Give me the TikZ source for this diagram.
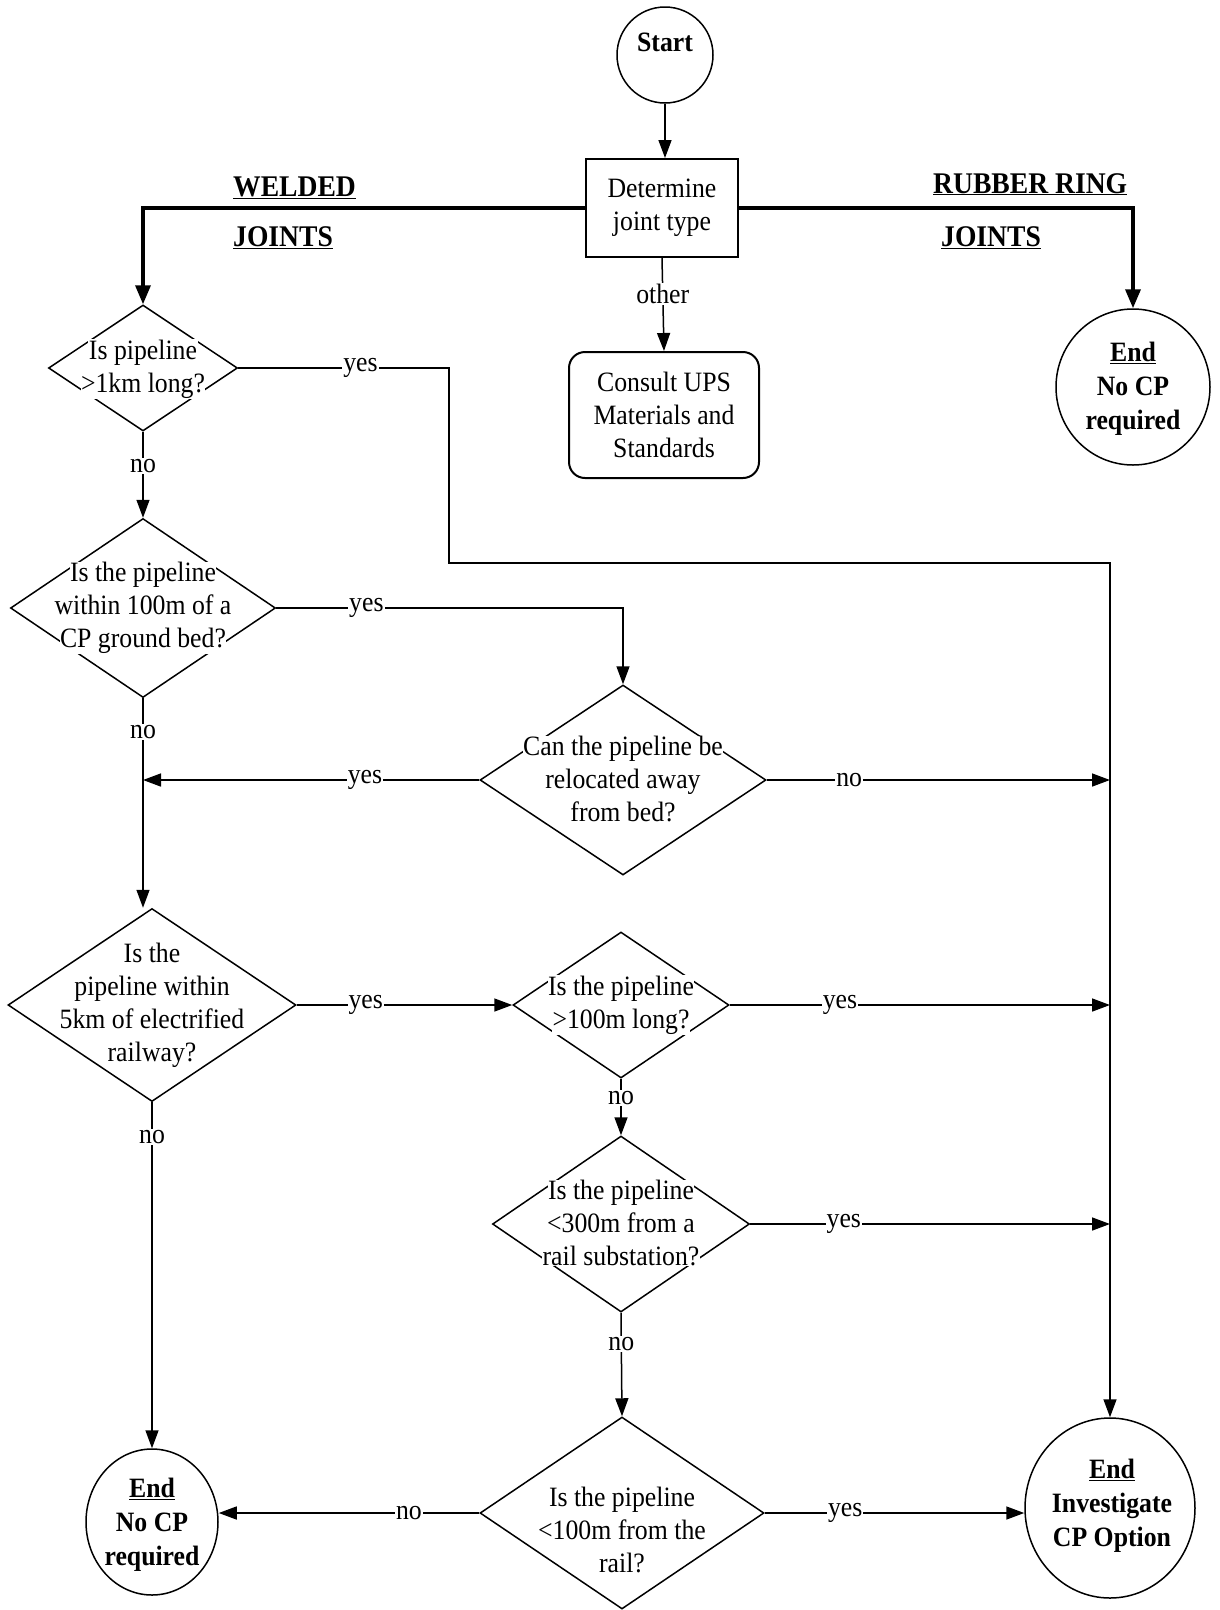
\documentclass[tikz,border=0pt]{standalone}
\usepackage{fontspec}
\setmainfont{Liberation Serif}[FakeStretch=0.92]
\usetikzlibrary{shapes.geometric,arrows.meta}
\newcommand{\wb}[1]{{\setlength{\fboxsep}{0.5pt}\colorbox{white}{#1}}}
\begin{document}
\begin{tikzpicture}[x=1pt,y=-1pt,
  every node/.style={font=\fontsize{28}{33}\selectfont},
  dia/.style={draw, shape=diamond, line width=1.5pt, inner sep=0pt},
  dtext/.style={align=center, inner sep=0pt},
  term/.style={draw, ellipse, line width=1.5pt, inner sep=0pt},
  ttext/.style={align=center, inner sep=0pt, font=\fontsize{28}{34}\selectfont\bfseries},
  boxx/.style={draw, line width=2pt, inner sep=0pt, align=center},
  arr/.style={line width=1.5pt, -{Triangle[length=18pt,width=13pt]}},
  heavyarr/.style={line width=3.5pt, -{Triangle[length=19pt,width=15pt]}},
  lbl/.style={fill=white, inner sep=1pt},
  head/.style={font=\fontsize{30}{34}\selectfont\bfseries, anchor=base west, inner sep=0pt}
]
\path[fill=white] (0,0) rectangle (1219,1610);
\useasboundingbox (0,0) rectangle (1219,1610);

% terminals and boxes
\node[term, minimum width=96, minimum height=96] (start) at (665,55) {};
\node[ttext] (starttxt) at (665,42) {Start};
\node[boxx, minimum width=152, minimum height=98] (det) at (662,208) {Determine\\joint type};
\node[boxx, rounded corners=16pt, minimum width=190, minimum height=126] (cons) at (664,415) {Consult UPS\\Materials and\\Standards};
\node[term, minimum width=154, minimum height=156] (endR) at (1133,387) {};
\node[ttext] (endRt) at (1133,389) {\underline{End}\\No CP\\required};
\node[term, minimum width=132, minimum height=146] (endL) at (152,1522) {};
\node[ttext] (endLt) at (152,1525) {\underline{End}\\No CP\\required};
\node[term, minimum width=170, minimum height=180] (inv) at (1110,1508) {};
\node[ttext] (invt) at (1112,1506) {\underline{End}\\Investigate\\CP Option};

% headings
\node[head] (hw1) at (233,196) {\underline{WELDED}};
\node[head] (hw2) at (233,246) {\underline{JOINTS}};
\node[head] (hr1) at (933,193) {\underline{RUBBER RING}};
\node[head] (hr2) at (941,246) {\underline{JOINTS}};

% decisions
\node[dia, minimum width=189, minimum height=126] (d1) at (143,368) {};
\node[dia, minimum width=265, minimum height=179] (d2) at (143,608) {};
\node[dia, minimum width=288, minimum height=193] (d3) at (152,1005) {};
\node[dia, minimum width=286, minimum height=190] (d4) at (623,780) {};
\node[dia, minimum width=216, minimum height=146] (d5) at (621,1005) {};
\node[dia, minimum width=257, minimum height=176] (d6) at (621,1224) {};
\node[dia, minimum width=284, minimum height=192] (d7) at (622,1513) {};

\node[dtext] (t1) at (143,369) {\wb{Is pipeline}\\\wb{>1km long?}};
\node[dtext] (t2) at (143,608) {\wb{Is the pipeline}\\\wb{within 100m of a}\\\wb{CP ground bed?}};
\node[dtext] (t3) at (152,1005) {\wb{Is the}\\\wb{pipeline within}\\\wb{5km of electrified}\\\wb{railway?}};
\node[dtext] (t4) at (623,779) {\wb{Can the pipeline be}\\\wb{relocated away}\\\wb{from bed?}};
\node[dtext] (t5) at (621,1005) {\wb{Is the pipeline}\\\wb{>100m long?}};
\node[dtext] (t6) at (621,1223) {\wb{Is the pipeline}\\\wb{<300m from a}\\\wb{rail substation?}};
\node[dtext] (t7) at (622,1530) {\wb{Is the pipeline}\\\wb{<100m from the}\\\wb{rail?}};

% corner coordinates
\coordinate (ya) at (449,563);
\coordinate (rx) at (1110,563);

% connectors
\draw[arr] (start.south) -- (start.south |- det.north);
\draw[heavyarr] (det.west) -- (det.west -| d1.north) -- (d1.north);
\draw[heavyarr] (det.east) -- (det.east -| endR.north) -- (endR.north);
\draw[arr] (det.south) -- node[lbl,pos=.39]{other} (cons.north);

\draw[arr] (d1.east) -- node[lbl,pos=.58]{yes} (d1.east -| ya) -- (ya) -- (rx) -- (inv.north);
\draw[arr] (d1.south) -- node[lbl,pos=.4]{no} (d2.north);
\draw[arr] (d2.east) -- node[lbl,pos=.26]{yes} (d2.east -| d4.north) -- (d4.north);
\draw[arr] (d4.west) -- node[lbl,pos=.34]{yes} (d4.west -| d2.south);
\draw[arr] (d4.east) -- node[lbl,pos=.24]{no} (d4.east -| rx);
\draw[arr] (d2.south) -- node[lbl,pos=.16]{no} (d2.south |- d3.north);
\draw[arr] (d3.east) -- node[lbl,pos=.32]{yes} (d5.west);
\draw[arr] (d5.east) -- node[lbl,pos=.29]{yes} (d5.east -| rx);
\draw[arr] (d5.south) -- node[lbl,pos=.34]{no} (d6.north);
\draw[arr] (d6.east) -- node[lbl,pos=.26]{yes} (d6.east -| rx);
\draw[arr] (d6.south) -- node[lbl,pos=.3]{no} (d7.north);
\draw[arr] (d7.west) -- node[lbl,pos=.27]{no} (d7.west -| endL.east);
\draw[arr] (d7.east) -- node[lbl,pos=.31]{yes} (d7.east -| inv.west);
\draw[arr] (d3.south) -- node[lbl,pos=.1]{no} (endL.north);
\end{tikzpicture}
\end{document}
